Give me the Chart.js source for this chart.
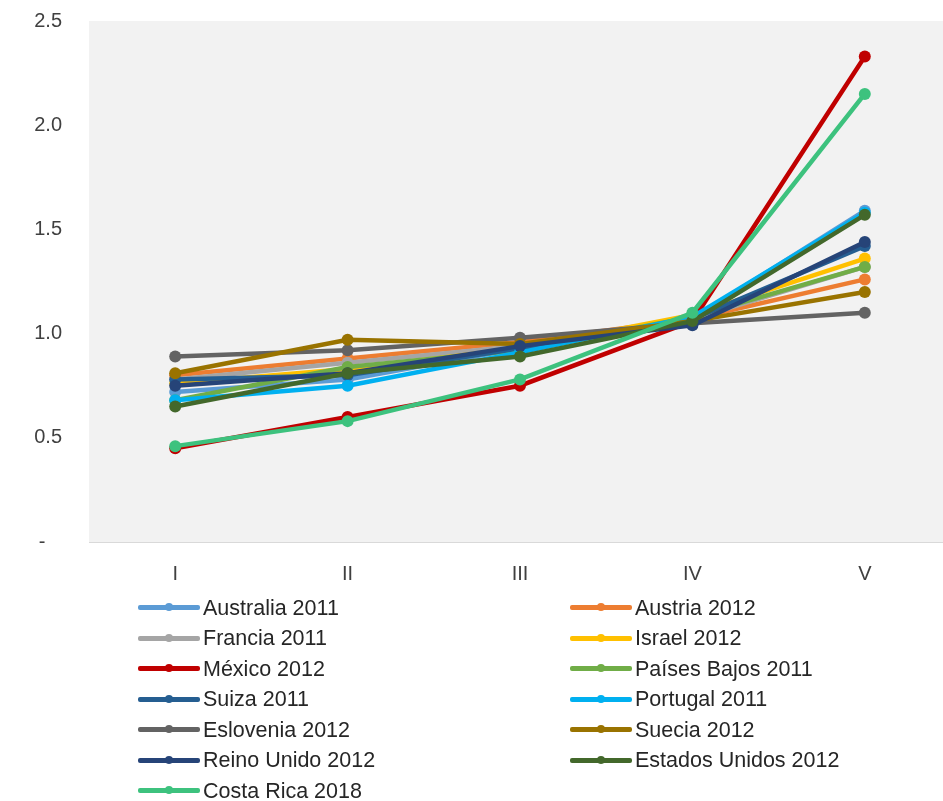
<!DOCTYPE html>
<html>
<head>
<meta charset="utf-8">
<script src="https://cdn.jsdelivr.net/npm/chart.js@4"></script>
<style>
  html, body { margin: 0; padding: 0; background: #ffffff; }
  body { width: 943px; height: 801px; position: relative; overflow: hidden; font-family: "Liberation Sans", Arial, sans-serif; }
  #wrap { position: absolute; left: 0; top: 0; width: 957px; height: 592px; }
  #legend { position: absolute; left: 0; top: 0; width: 943px; height: 801px; pointer-events: none; }
  .item { position: absolute; height: 26px; display: flex; align-items: center; font-size: 21.5px; color: #262626; white-space: nowrap; }
  .swatch { position: relative; width: 62px; height: 26px; margin-right: 3px; }
  .swatch .ln { position: absolute; left: 0; right: 0; top: 10px; height: 5px; border-radius: 2px; }
  .swatch .dot { position: absolute; left: 27px; top: 8px; width: 8px; height: 8px; border-radius: 50%; }
</style>
</head>
<body>
<div id="wrap"><canvas id="c"></canvas></div>
<div id="legend"></div>
<script>
const categories = ["I", "II", "III", "IV", "V"];
const seriesNames = ["Australia 2011", "Austria 2012", "Francia 2011", "Israel 2012", "México 2012", "Países Bajos 2011", "Suiza 2011", "Portugal 2011", "Eslovenia 2012", "Suecia 2012", "Reino Unido 2012", "Estados Unidos 2012", "Costa Rica 2018"];
const australia2011 = [0.72, 0.78, 0.93, 1.07, 1.59];
const austria2012 = [0.80, 0.88, 0.96, 1.07, 1.26];
const francia2011 = [0.78, 0.86, 0.94, 1.07, 1.32];
const israel2012 = [0.76, 0.83, 0.93, 1.09, 1.36];
const mexico2012 = [0.45, 0.60, 0.75, 1.06, 2.33];
const paisesBajos2011 = [0.68, 0.84, 0.92, 1.08, 1.32];
const suiza2011 = [0.78, 0.80, 0.93, 1.07, 1.42];
const portugal2011 = [0.68, 0.75, 0.91, 1.08, 1.58];
const eslovenia2012 = [0.89, 0.92, 0.98, 1.05, 1.10];
const suecia2012 = [0.81, 0.97, 0.95, 1.06, 1.20];
const reinoUnido2012 = [0.75, 0.81, 0.94, 1.04, 1.44];
const estadosUnidos2012 = [0.65, 0.81, 0.89, 1.06, 1.57];
const costaRica2018 = [0.46, 0.58, 0.78, 1.10, 2.15];
const yTicks = [0, 0.5, 1.0, 1.5, 2.0, 2.5];

const seriesValues = [australia2011, austria2012, francia2011, israel2012, mexico2012, paisesBajos2011, suiza2011, portugal2011, eslovenia2012, suecia2012, reinoUnido2012, estadosUnidos2012, costaRica2018];
const colors = ["#5B9BD5", "#ED7D31", "#A5A5A5", "#FFC000", "#C00000", "#70AD47", "#255E91", "#00B0F0", "#636363", "#997300", "#264478", "#43682B", "#3DC27E"];

const n = seriesNames.length;
const datasets = seriesNames.map((name, i) => ({
  label: name,
  data: seriesValues[i],
  borderColor: colors[i],
  backgroundColor: colors[i],
  pointBackgroundColor: colors[i],
  pointBorderColor: colors[i],
  borderWidth: 4.5,
  pointRadius: 6,
  pointBorderWidth: 0,
  tension: 0,
  order: n - i
}));

const plotBg = {
  id: 'plotBg',
  beforeDraw(chart) {
    const { ctx, chartArea: a } = chart;
    ctx.save();
    ctx.fillStyle = '#F2F2F2';
    ctx.fillRect(a.left, a.top, a.right - a.left, a.bottom - a.top);
    ctx.strokeStyle = '#D9D9D9';
    ctx.lineWidth = 1;
    ctx.beginPath();
    ctx.moveTo(a.left, a.bottom + 0.5);
    ctx.lineTo(a.right, a.bottom + 0.5);
    ctx.stroke();
    ctx.restore();
  }
};

const chart = new Chart(document.getElementById('c'), {
  type: 'line',
  data: { labels: categories, datasets },
  plugins: [plotBg],
  options: {
    responsive: true,
    maintainAspectRatio: false,
    animation: false,
    layout: { padding: { top: 21, right: 0, left: 0, bottom: 0 } },
    plugins: { legend: { display: false }, tooltip: { enabled: false } },
    scales: {
      x: {
        offset: true,
        grid: { display: false, drawTicks: false },
        border: { display: false },
        ticks: { color: '#404040', font: { family: 'Liberation Sans', size: 20 }, padding: 20 },
        afterFit(s) { s.height = 50; s.paddingLeft = 0; s.paddingRight = 0; }
      },
      y: {
        min: 0, max: 2.5,
        afterBuildTicks(s) { s.ticks = yTicks.map(v => ({ value: v })); },
        grid: { display: false, drawTicks: false },
        border: { display: false },
        ticks: {
          color: '#404040',
          font: { family: 'Liberation Sans', size: 20 },
          padding: 27,
          callback: v => (v === 0 ? '-   ' : Number(v).toFixed(1))
        },
        afterFit(s) { s.width = 89; s.paddingTop = 0; s.paddingBottom = 0; }
      }
    }
  }
});

// HTML legend built from the chart's datasets
const legend = document.getElementById('legend');
chart.data.datasets.forEach((ds, i) => {
  const col = i % 2, row = Math.floor(i / 2);
  const it = document.createElement('div');
  it.className = 'item';
  it.style.left = (col === 0 ? 138 : 570) + 'px';
  it.style.top = (595 + row * 30.5) + 'px';
  const sw = document.createElement('div');
  sw.className = 'swatch';
  const ln = document.createElement('div'); ln.className = 'ln'; ln.style.background = ds.borderColor;
  const dot = document.createElement('div'); dot.className = 'dot'; dot.style.background = ds.borderColor;
  sw.appendChild(ln); sw.appendChild(dot);
  const tx = document.createElement('span'); tx.textContent = ds.label;
  it.appendChild(sw); it.appendChild(tx);
  legend.appendChild(it);
});
</script>
</body>
</html>
